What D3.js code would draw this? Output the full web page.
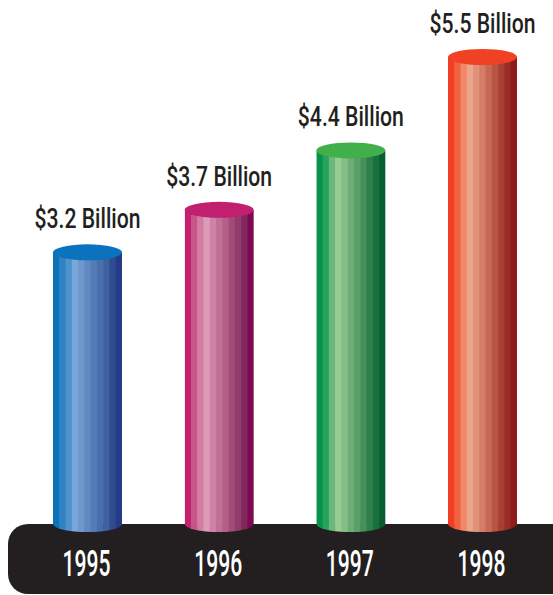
<!DOCTYPE html>
<html>
<head>
<meta charset="utf-8">
<script src="https://cdn.jsdelivr.net/npm/d3@7"></script>
<style>
  body { margin: 0; background: #fff; }
  svg { display: block; }
</style>
</head>
<body>
<div id="chart"></div>
<script>
"use strict";

// chart data
var years = ["1995", "1996", "1997", "1998"];
var revenue = [3.2, 3.7, 4.4, 5.5];
var labels = ["$3.2 Billion", "$3.7 Billion", "$4.4 Billion", "$5.5 Billion"];

// colours: lid colour and the vertical shading bands, left to right
var lidColors = ["#0b73bd", "#c11f6f", "#41b04b", "#f04124"];
var stripeColors = [
    ["#0b72ba", "#2f82c4", "#4f93cd", "#79a7da", "#6d98cd", "#6189c1", "#557cb6", "#4a6eab", "#3f619f", "#2f4c91", "#243c88"],
    ["#c3206f", "#c9548a", "#d47ba2", "#dc9cb9", "#cf82a5", "#c27096", "#b45f88", "#a44c79", "#933b6b", "#82275d", "#7d0a50"],
    ["#06924a", "#27a25c", "#6cb87a", "#98cc93", "#84bd85", "#6eae76", "#5a9e68", "#46905b", "#2f7f4c", "#18703f", "#075e30"],
    ["#f03e23", "#f2613f", "#f0896a", "#eca58b", "#e0917a", "#d47c66", "#c66853", "#b85443", "#a83f33", "#9a2d25", "#8c1c1c"]
];

var width = 553, height = 595;
var baseY = 524;       // centre of the cylinders' bottom ellipse
var cylW = 69, ry = 8;
var font = "Roboto, 'DejaVu Sans Condensed', sans-serif";

var svg = d3.select("#chart").append("svg")
    .attr("width", width)
    .attr("height", height);

var x = d3.scalePoint()
    .domain(years)
    .range([87.5, 482.5]);

var y = d3.scaleLinear()
    .domain([0, 5.5])
    .range([baseY, 57]);

var stripe = d3.scaleBand()
    .domain(d3.range(11))
    .range([-cylW / 2, cylW / 2]);

// black base
svg.append("rect")
    .attr("x", 8)
    .attr("y", baseY)
    .attr("width", 570)
    .attr("height", 70)
    .attr("rx", 20)
    .attr("ry", 20)
    .attr("fill", "#231f20");

var defs = svg.append("defs");

years.forEach(function(yr, i) {
    var cx = x(yr);
    var top = y(revenue[i]);
    var rx = cylW / 2;

    // body outline: rectangle plus lower half ellipse
    var bodyPath = "M" + (cx - rx) + "," + top +
        "L" + (cx - rx) + "," + baseY +
        "A" + rx + "," + ry + " 0 0 0 " + (cx + rx) + "," + baseY +
        "L" + (cx + rx) + "," + top + "Z";

    defs.append("clipPath")
        .attr("id", "clip" + i)
        .append("path")
        .attr("d", bodyPath);

    var g = svg.append("g");

    g.append("g")
        .attr("clip-path", "url(#clip" + i + ")")
        .selectAll("rect")
        .data(stripeColors[i])
        .enter()
        .append("rect")
        .attr("x", function(d, k) { return cx + stripe(k); })
        .attr("y", top)
        .attr("width", stripe.bandwidth() + 0.6)
        .attr("height", baseY - top + ry + 1)
        .attr("fill", function(d) { return d; });

    g.append("ellipse")
        .attr("cx", cx)
        .attr("cy", top)
        .attr("rx", rx)
        .attr("ry", ry)
        .attr("fill", lidColors[i]);

    svg.append("text")
        .attr("x", cx)
        .attr("y", top - ry - 16)
        .attr("text-anchor", "middle")
        .attr("font-family", font)
        .attr("font-weight", 500)
        .attr("font-size", 27)
        .attr("textLength", 106)
        .attr("lengthAdjust", "spacingAndGlyphs")
        .attr("fill", "#231f20")
        .text(labels[i]);

    svg.append("text")
        .attr("x", cx - 1)
        .attr("y", 576)
        .attr("text-anchor", "middle")
        .attr("font-family", font)
        .attr("font-weight", 500)
        .attr("font-size", 37)
        .attr("textLength", 48)
        .attr("lengthAdjust", "spacingAndGlyphs")
        .attr("fill", "#fff")
        .text(yr);
});
</script>
</body>
</html>
